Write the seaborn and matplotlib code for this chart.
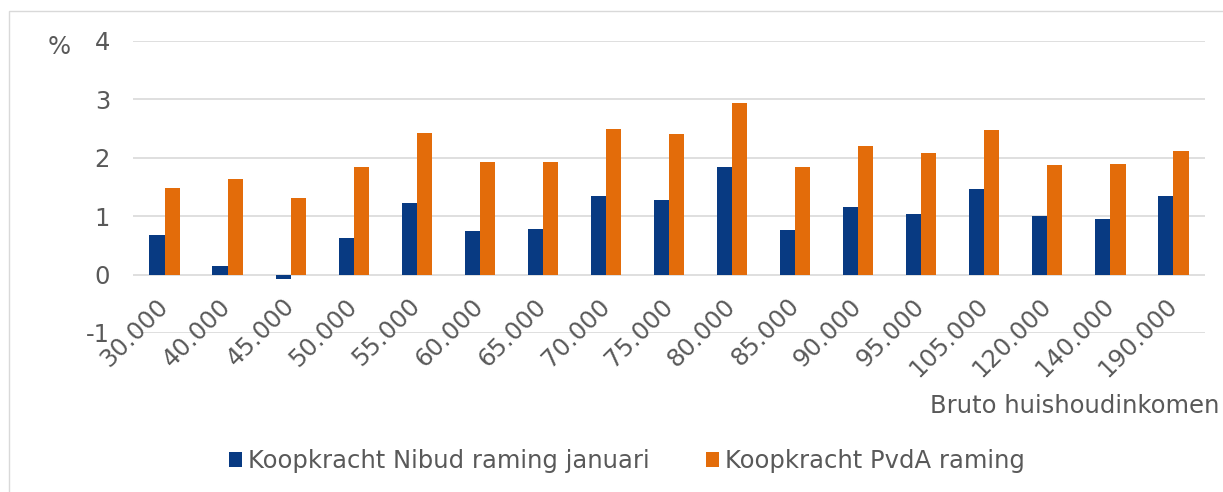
import matplotlib
matplotlib.use("Agg")
import matplotlib.pyplot as plt
from matplotlib.patches import Rectangle
import pandas as pd
import seaborn as sns

# data
inkomens = ["30.000", "40.000", "45.000", "50.000", "55.000", "60.000", "65.000",
            "70.000", "75.000", "80.000", "85.000", "90.000", "95.000", "105.000",
            "120.000", "140.000", "190.000"]
nibud = [0.68, 0.15, -0.07, 0.62, 1.22, 0.74, 0.78, 1.35, 1.28, 1.84, 0.77,
         1.15, 1.04, 1.46, 1.00, 0.95, 1.35]
pvda = [1.49, 1.64, 1.31, 1.85, 2.43, 1.92, 1.93, 2.49, 2.40, 2.93, 1.85,
        2.21, 2.09, 2.47, 1.87, 1.89, 2.12]
reeksen = ["Koopkracht Nibud raming januari", "Koopkracht PvdA raming"]
yticks = [-1, 0, 1, 2, 3, 4]

BLUE = "#083A82"
ORANGE = "#E36C0A"
GREY_TXT = "#595959"
GRID = "#D9D9D9"
FS = 17.5

df = pd.DataFrame({
    "inkomen": inkomens * 2,
    "waarde": nibud + pvda,
    "reeks": [reeksen[0]] * len(inkomens) + [reeksen[1]] * len(inkomens),
})

sns.set_style("white")
plt.rcParams["font.family"] = ["DejaVu Sans"]
plt.rcParams["axes.unicode_minus"] = False

W, H = 1223, 492
fig = plt.figure(figsize=(W / 100, H / 100), dpi=100)
ax = fig.add_axes([133 / W, 1 - 333 / H, (1205 - 133) / W, (333 - 41) / H])

sns.barplot(data=df, x="inkomen", y="waarde", hue="reeks",
            palette=[BLUE, ORANGE], width=0.48, gap=0, ax=ax,
            linewidth=0, saturation=1)

ax.set_ylim(-1, 4)
ax.set_yticks(yticks)
ax.set_xlim(-0.5, len(inkomens) - 0.5)
ax.set_xlabel("")
ax.set_ylabel("")
for y in yticks:
    ax.axhline(y, color=GRID, lw=1.2, zorder=0)

for s in ax.spines.values():
    s.set_visible(False)
ax.spines["bottom"].set_position(("data", 0))

ax.tick_params(axis="y", length=0, pad=16.5, labelsize=FS, labelcolor=GREY_TXT)
ax.tick_params(axis="x", length=0, pad=20, labelsize=FS, labelcolor=GREY_TXT)
for lbl in ax.get_xticklabels():
    lbl.set_rotation(45)
    lbl.set_ha("right")
    lbl.set_va("center")
    lbl.set_rotation_mode("anchor")

handles, labels = ax.get_legend_handles_labels()
ax.legend_.remove()
fig.legend(handles, labels, loc="center", bbox_to_anchor=(627 / W, 1 - 461 / H),
           ncol=2, frameon=False, fontsize=FS, labelcolor=GREY_TXT,
           handlelength=0.55, handleheight=0.55, handletextpad=0.25,
           columnspacing=2.3)

fig.text(59.5 / W, 1 - 47 / H, "%", ha="center", va="center",
         fontsize=FS, color=GREY_TXT)
# in the reference this title runs past the right edge; keep it just inside
fig.text(1219 / W, 1 - 406 / H, "Bruto huishoudinkomen", ha="right",
         va="center", fontsize=FS, color=GREY_TXT)

fig.add_artist(Rectangle((8.5 / W, -0.1), 1.2, 1.1 - 11 / H,
                         transform=fig.transFigure, fill=False,
                         edgecolor=GRID, lw=1))

fig.savefig("out.png", dpi=100)
